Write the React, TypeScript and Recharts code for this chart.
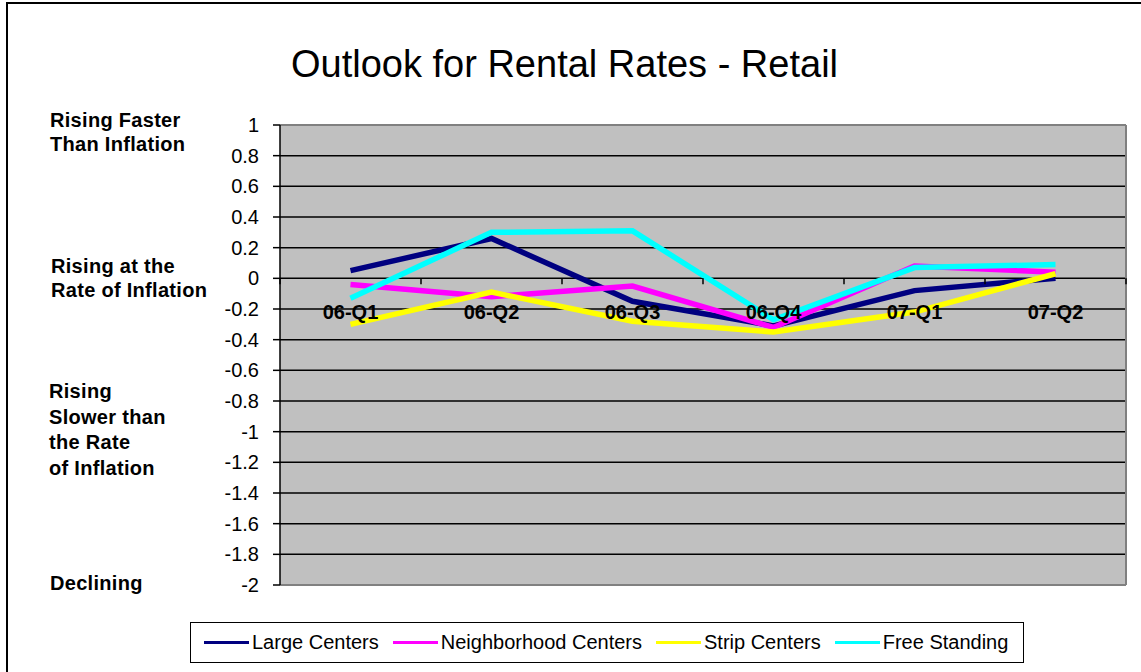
import { LineChart, Line, XAxis, YAxis, CartesianGrid, ReferenceDot, ReferenceLine } from 'recharts';

const quarters = ['06-Q1', '06-Q2', '06-Q3', '06-Q4', '07-Q1', '07-Q2'];
const largeCenters = [0.05, 0.26, -0.15, -0.31, -0.08, 0.0];
const neighborhoodCenters = [-0.04, -0.12, -0.05, -0.32, 0.08, 0.04];
const stripCenters = [-0.3, -0.09, -0.28, -0.35, -0.22, 0.03];
const freeStanding = [-0.13, 0.3, 0.31, -0.27, 0.07, 0.09];
const yTicks = [1, 0.8, 0.6, 0.4, 0.2, 0, -0.2, -0.4, -0.6, -0.8, -1, -1.2, -1.4, -1.6, -1.8, -2];

const seriesNames = ['Large Centers', 'Neighborhood Centers', 'Strip Centers', 'Free Standing'];
const seriesKeys = ['large', 'neighborhood', 'strip', 'free'];
const seriesColors = ['#000080', '#FF00FF', '#FFFF00', '#00FFFF'];

const data = quarters.map((q, i) => ({
  q,
  large: largeCenters[i],
  neighborhood: neighborhoodCenters[i],
  strip: stripCenters[i],
  free: freeStanding[i],
}));

const font = '"Liberation Sans", Arial, sans-serif';

// small tick marks on the category axis, which crosses at 0
function ZeroTicks(props: any) {
  const vb = props.viewBox;
  if (!vb) return null;
  const n = quarters.length;
  return (
    <g>
      {Array.from({ length: n + 1 }, (_, i) => {
        const x = vb.x + (vb.width * i) / n;
        return <line key={i} x1={x} x2={x} y1={vb.y} y2={vb.y + 6} stroke="#000" strokeWidth={1.5} />;
      })}
    </g>
  );
}

const sideLabel = (top: number, lines: string[], lh: number, left: number) => (
  <div
    style={{
      position: 'absolute',
      left,
      top,
      fontFamily: font,
      fontWeight: 'bold',
      fontSize: 20,
      letterSpacing: 0.3,
      lineHeight: `${lh}px`,
      color: '#000',
      whiteSpace: 'nowrap',
    }}
  >
    {lines.map((l) => (
      <div key={l}>{l}</div>
    ))}
  </div>
);

export default function App() {
  return (
    <div style={{ position: 'absolute', left: 0, top: 0, width: 1141, height: 672, overflow: 'hidden', background: '#fff' }}>
      <div style={{ position: 'absolute', left: 6, top: 2, width: 1300, height: 900, borderLeft: '2px solid #000', borderTop: '2px solid #000' }} />
      <div style={{ position: 'absolute', left: 291, top: 45, fontFamily: font, fontSize: 38, lineHeight: 1, whiteSpace: 'nowrap' }}>
        Outlook for Rental Rates - Retail
      </div>
      {sideLabel(108, ['Rising Faster', 'Than Inflation'], 24, 50)}
      {sideLabel(254, ['Rising at the', 'Rate of Inflation'], 24, 51)}
      {sideLabel(379, ['Rising', 'Slower than', 'the Rate', 'of Inflation'], 25.5, 49)}
      {sideLabel(571, ['Declining'], 24, 50)}
      <div style={{ position: 'absolute', left: 0, top: 0 }}>
        <LineChart width={1141} height={672} data={data} margin={{ top: 125, right: 15, bottom: 87, left: 0 }}>
          <CartesianGrid fill="#C0C0C0" fillOpacity={1} vertical={false} stroke="#000" strokeWidth={1.5} />
          <CartesianGrid
            horizontal={false}
            stroke="#808080"
            strokeWidth={2}
            verticalCoordinatesGenerator={({ offset }: any) => [offset.left + offset.width]}
          />
          <ReferenceLine y={1} stroke="#808080" strokeWidth={2} />
          <ReferenceLine y={-2} stroke="#808080" strokeWidth={2} />
          <XAxis dataKey="q" hide padding={{ left: 70.5, right: 70.5 }} />
          <YAxis
            width={280}
            domain={[-2, 1]}
            ticks={yTicks}
            interval={0}
            axisLine={{ stroke: '#000', strokeWidth: 1.5 }}
            tickLine={{ stroke: '#000', strokeWidth: 1.5 }}
            tickSize={7}
            tickMargin={14}
            tick={{ fill: '#000', fontSize: 20, fontFamily: font }}
          />
          {seriesKeys.map((k, i) => (
            <Line
              key={k}
              type="linear"
              dataKey={k}
              name={seriesNames[i]}
              stroke={seriesColors[i]}
              strokeWidth={5.5}
              dot={false}
              isAnimationActive={false}
            />
          ))}
          <ReferenceLine y={0} stroke="none" label={<ZeroTicks />} />
          {quarters.map((q) => (
            <ReferenceDot
              key={q}
              x={q}
              y={0}
              r={0}
              fill="none"
              stroke="none"
              label={{ value: q, position: 'bottom', offset: 26, fill: '#000', fontSize: 20, fontWeight: 'bold', fontFamily: font }}
            />
          ))}
        </LineChart>
      </div>
      <div
        style={{
          position: 'absolute',
          left: 190,
          top: 622,
          width: 834,
          height: 41,
          boxSizing: 'border-box',
          border: '1px solid #000',
          display: 'flex',
          alignItems: 'center',
          paddingLeft: 13,
          gap: 14,
          fontFamily: font,
          fontSize: 20,
          background: '#fff',
        }}
      >
        {seriesNames.map((n, i) => (
          <div key={n} style={{ display: 'flex', alignItems: 'center', whiteSpace: 'nowrap' }}>
            <div style={{ width: 45, height: 3, background: seriesColors[i], marginRight: 3 }} />
            <span>{n}</span>
          </div>
        ))}
      </div>
    </div>
  );
}
